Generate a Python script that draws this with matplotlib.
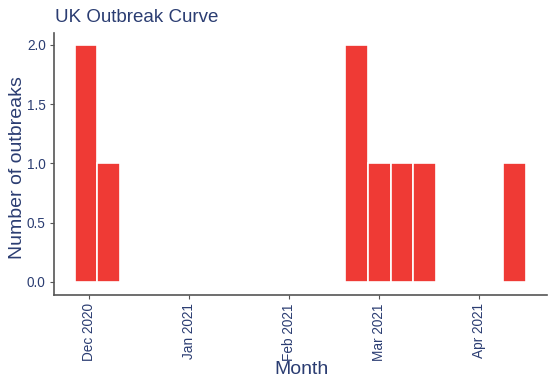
import matplotlib
matplotlib.use("Agg")
import matplotlib.pyplot as plt
from datetime import datetime

# weekly outbreak counts (week start dates)
weeks = ["2020-11-30", "2020-12-07", "2021-02-22", "2021-03-01",
         "2021-03-08", "2021-03-15", "2021-04-12"]
counts = [2, 1, 2, 1, 1, 1, 1]
tick_dates = ["2020-12-01", "2021-01-01", "2021-02-01", "2021-03-01", "2021-04-01"]
tick_labels = ["Dec 2020", "Jan 2021", "Feb 2021", "Mar 2021", "Apr 2021"]

plt.rcParams['font.family'] = ['Liberation Sans', 'DejaVu Sans']
txt = "#2b3d72"
bar_col = "#ef3a35"

x = [datetime.strptime(d, "%Y-%m-%d") for d in weeks]
ticks = [datetime.strptime(d, "%Y-%m-%d") for d in tick_dates]

fig = plt.figure(figsize=(5.58, 3.88), dpi=100)
ax = fig.add_axes([0.0968, 0.2397, 0.883, 0.675])
ax.bar(x, counts, width=7, color=bar_col, edgecolor="white", linewidth=1.2)

ax.set_xlim(datetime(2020, 11, 20), datetime(2021, 4, 22))
ax.set_ylim(-0.11, 2.1)
ax.set_xticks(ticks)
ax.set_xticklabels(tick_labels, rotation=90)
ax.set_yticks([0, 0.5, 1.0, 1.5, 2.0])
ax.set_yticklabels(["0.0", "0.5", "1.0", "1.5", "2.0"])

for s in ["top", "right"]:
    ax.spines[s].set_visible(False)
for s in ["left", "bottom"]:
    ax.spines[s].set_color("#555555")
    ax.spines[s].set_linewidth(1.2)
ax.tick_params(colors="#555555", labelcolor=txt, labelsize=9.8, length=3, pad=3)

fig.text(301/558, 1 - 369/388, "Month", color=txt, fontsize=14, ha="center", va="center")
fig.text(18/558, 1 - 168/388, "Number of outbreaks", color=txt, fontsize=14,
         ha="center", va="center", rotation=90)
fig.text(55/558, 1 - 17/388, "UK Outbreak Curve", color=txt, fontsize=13.5, va="center")

fig.savefig("out.png", dpi=100)
